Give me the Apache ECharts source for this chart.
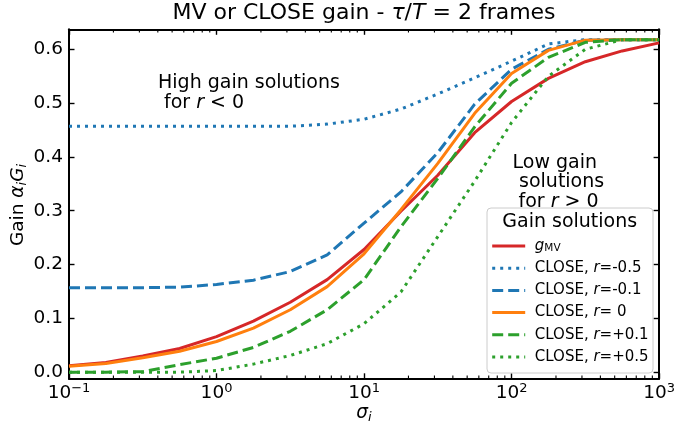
<!DOCTYPE html>
<html>
<head>
<meta charset="utf-8">
<script src="https://cdn.jsdelivr.net/npm/echarts@6/dist/echarts.min.js"></script>
<style>
  html, body { margin: 0; padding: 0; background: #ffffff; }
  #chart { width: 678px; height: 430px; }
</style>
</head>
<body>
<div id="chart"></div>
<script>
// Noise level sigma_i (log-spaced, 4 samples per decade)
const sigma = [0.1, 0.1778, 0.3162, 0.5623, 1, 1.778, 3.162, 5.623, 10, 17.78, 31.62, 56.23, 100, 177.8, 316.2, 562.3, 1000];

// Gain alpha_i G_i for each solution
const gainMV     = [0.012, 0.018, 0.030, 0.044, 0.066, 0.095, 0.130, 0.172, 0.228, 0.299, 0.366, 0.445, 0.503, 0.546, 0.577, 0.597, 0.612];
const closeNeg05 = [0.457, 0.457, 0.457, 0.457, 0.457, 0.457, 0.457, 0.461, 0.470, 0.489, 0.517, 0.547, 0.578, 0.610, 0.618, 0.618, 0.618];
const closeNeg01 = [0.157, 0.157, 0.157, 0.158, 0.163, 0.171, 0.187, 0.218, 0.277, 0.335, 0.408, 0.498, 0.563, 0.600, 0.617, 0.618, 0.618];
const closeZero  = [0.011, 0.016, 0.027, 0.039, 0.057, 0.082, 0.116, 0.159, 0.220, 0.302, 0.388, 0.481, 0.555, 0.598, 0.617, 0.618, 0.618];
const closePos01 = [0.000, 0.000, 0.001, 0.014, 0.026, 0.046, 0.076, 0.116, 0.172, 0.270, 0.360, 0.456, 0.537, 0.585, 0.613, 0.618, 0.618];
const closePos05 = [0.000, 0.000, 0.000, 0.000, 0.003, 0.015, 0.031, 0.053, 0.090, 0.149, 0.252, 0.355, 0.464, 0.550, 0.600, 0.618, 0.618];

// Axis ticks
const yTicks = [0, 0.1, 0.2, 0.3, 0.4, 0.5, 0.6];
const xMinorTicks = [];
[0.1, 1, 10, 100].forEach(function (d) {
  for (let k = 2; k <= 9; k++) xMinorTicks.push(+(d * k).toPrecision(3));
});

const FONT = 'DejaVu Sans';
const C_RED = '#d62728', C_BLUE = '#1f77b4', C_ORANGE = '#ff7f0e', C_GREEN = '#2ca02c';
const DASHED = [11, 5];
const DOTTED = [3, 5];

const Y_MIN = -0.0123, Y_MAX = 0.6372;
const X_MIN = 0.1, X_MAX = 1000;

const chart = echarts.init(document.getElementById('chart'), null, { renderer: 'canvas' });

function pairs(values) {
  return sigma.map(function (s, i) { return [s, values[i]]; });
}

function lineSeries(name, values, color, type) {
  return {
    name: name,
    type: 'line',
    data: pairs(values),
    symbol: 'none',
    showSymbol: false,
    smooth: false,
    silent: true,
    animation: false,
    lineStyle: { color: color, width: 3, type: type, cap: 'butt' },
    itemStyle: { color: color }
  };
}

const legendLabels = {
  'gMV': '{mi|g}{sub|MV}',
  'r=-0.5': 'CLOSE, {mi|r}=-0.5',
  'r=-0.1': 'CLOSE, {mi|r}=-0.1',
  'r=0': 'CLOSE, {mi|r}= 0',
  'r=+0.1': 'CLOSE, {mi|r}=+0.1',
  'r=+0.5': 'CLOSE, {mi|r}=+0.5'
};

function pow10Label(v) {
  const e = Math.round(Math.log10(v));
  return '{b|10}{sup|' + (e < 0 ? '\u2212' + (-e) : e) + '}';
}

const italic = function (size) {
  return { fontFamily: FONT, fontSize: size, fontStyle: 'italic', fill: '#000' };
};

const option = {
  backgroundColor: '#ffffff',
  animation: false,
  grid: { left: 69, right: 16.7, top: 29.3, bottom: 51.2, containLabel: false },
  xAxis: [
    {
      type: 'log', logBase: 10, min: X_MIN, max: X_MAX, position: 'bottom',
      axisLine: { show: true, onZero: false, lineStyle: { color: '#000', width: 2 } },
      axisTick: { show: true, inside: true, length: 5.5, lineStyle: { color: '#000', width: 1.4 } },
      axisLabel: {
        show: true, margin: 3,
        formatter: pow10Label,
        rich: {
          b: { fontFamily: FONT, fontSize: 18.5, color: '#000', lineHeight: 22 },
          sup: { fontFamily: FONT, fontSize: 13, color: '#000', verticalAlign: 'top', lineHeight: 9.4 }
        }
      },
      splitLine: { show: false }, minorTick: { show: false }
    },
    {
      type: 'log', logBase: 10, min: X_MIN, max: X_MAX, position: 'top',
      axisLine: { show: true, onZero: false, lineStyle: { color: '#000', width: 2 } },
      axisTick: { show: true, inside: true, length: 5.5, lineStyle: { color: '#000', width: 1.4 } },
      axisLabel: { show: false },
      splitLine: { show: false }
    }
  ],
  yAxis: [
    {
      type: 'value', min: Y_MIN, max: Y_MAX, position: 'left',
      axisLine: { show: true, onZero: false, lineStyle: { color: '#000', width: 2 } },
      axisTick: { show: true, inside: true, length: 5.5, customValues: yTicks, lineStyle: { color: '#000', width: 1.4 } },
      axisLabel: {
        show: true, margin: 6, customValues: yTicks,
        formatter: function (v) { return v.toFixed(1); },
        fontFamily: FONT, fontSize: 18.5, color: '#000'
      },
      splitLine: { show: false }
    },
    {
      type: 'value', min: Y_MIN, max: Y_MAX, position: 'right',
      axisLine: { show: true, onZero: false, lineStyle: { color: '#000', width: 2 } },
      axisTick: { show: true, inside: true, length: 5.5, customValues: yTicks, lineStyle: { color: '#000', width: 1.4 } },
      axisLabel: { show: false },
      splitLine: { show: false }
    }
  ],
  legend: {
    data: ['gMV', 'r=-0.5', 'r=-0.1', 'r=0', 'r=+0.1', 'r=+0.5'],
    orient: 'vertical',
    left: 490.7, top: 238.5,
    padding: 0,
    itemWidth: 33, itemHeight: 15, itemGap: 7.2,
    selectedMode: false,
    itemStyle: { color: 'rgba(0,0,0,0)', borderWidth: 0, opacity: 0 },
    lineStyle: { width: 3, type: 'inherit', color: 'inherit', opacity: 1 },
    formatter: function (name) { return legendLabels[name]; },
    textStyle: {
      fontFamily: FONT, fontSize: 15, color: '#000', lineHeight: 15, padding: [0, 0, 0, 4.6],
      rich: {
        mi: { fontFamily: FONT, fontSize: 15, fontStyle: 'italic', color: '#000', lineHeight: 15 },
        sub: { fontFamily: FONT, fontSize: 10.5, color: '#000', verticalAlign: 'bottom', lineHeight: 7 }
      }
    }
  },
  graphic: [
    // legend frame and title
    {
      type: 'rect', z: 1,
      shape: { x: 487, y: 208, width: 166, height: 165, r: 4 },
      style: { fill: 'rgba(255,255,255,0.8)', stroke: '#cccccc', lineWidth: 1 }
    },
    {
      type: 'text', z: 5, x: 569.7, y: 222.5,
      style: { text: 'Gain solutions', fontFamily: FONT, fontSize: 19, fill: '#000', align: 'center', verticalAlign: 'middle' }
    },
    // title
    {
      type: 'text', z: 5, x: 364, y: 13.5,
      style: {
        text: 'MV or CLOSE gain - {i|\u03c4}/{i|T} = 2 frames',
        fontFamily: FONT, fontSize: 22, fill: '#000', align: 'center', verticalAlign: 'middle',
        rich: { i: italic(22) }
      }
    },
    // y-axis label
    {
      type: 'text', z: 5, x: 18, y: 205, rotation: Math.PI / 2,
      style: {
        text: 'Gain {i|\u03b1}{s|i}{i|G}{s|i}',
        fontFamily: FONT, fontSize: 18.5, fill: '#000', align: 'center', verticalAlign: 'middle',
        rich: {
          i: Object.assign(italic(18.5), { lineHeight: 22 }),
          s: Object.assign(italic(13), { verticalAlign: 'bottom', lineHeight: 10.6 })
        }
      }
    },
    // x-axis label
    {
      type: 'text', z: 5, x: 364, y: 413,
      style: {
        text: '{i|\u03c3}{s|i}',
        fontFamily: FONT, fontSize: 18.5, fill: '#000', align: 'center', verticalAlign: 'middle',
        rich: {
          i: Object.assign(italic(18.5), { lineHeight: 22 }),
          s: Object.assign(italic(13), { verticalAlign: 'bottom', lineHeight: 10.6 })
        }
      }
    },
    // annotations
    {
      type: 'text', z: 5, x: 158, y: 83,
      style: { text: 'High gain solutions', fontFamily: FONT, fontSize: 19, fill: '#000', align: 'left', verticalAlign: 'middle' }
    },
    {
      type: 'text', z: 5, x: 158, y: 103.5,
      style: {
        text: ' for {i|r} < 0', fontFamily: FONT, fontSize: 19, fill: '#000', align: 'left', verticalAlign: 'middle',
        rich: { i: italic(19) }
      }
    },
    {
      type: 'text', z: 5, x: 512.5, y: 163,
      style: { text: 'Low gain', fontFamily: FONT, fontSize: 19, fill: '#000', align: 'left', verticalAlign: 'middle' }
    },
    {
      type: 'text', z: 5, x: 513, y: 182.5,
      style: { text: ' solutions', fontFamily: FONT, fontSize: 19, fill: '#000', align: 'left', verticalAlign: 'middle' }
    },
    {
      type: 'text', z: 5, x: 518.5, y: 202,
      style: {
        text: 'for {i|r} > 0', fontFamily: FONT, fontSize: 19, fill: '#000', align: 'left', verticalAlign: 'middle',
        rich: { i: italic(19) }
      }
    }
  ],
  series: [
    // minor ticks of the log axis, on bottom and top spines
    {
      type: 'custom',
      silent: true,
      animation: false,
      clip: false,
      z: 3,
      xAxisIndex: 0, yAxisIndex: 0,
      data: xMinorTicks.map(function (v) { return [v, 0]; }),
      renderItem: function (params, api) {
        const x = api.coord([api.value(0), 0])[0];
        const cs = params.coordSys;
        const st = { stroke: '#000', lineWidth: 1.1 };
        return {
          type: 'group',
          children: [
            { type: 'line', shape: { x1: x, y1: cs.y + cs.height, x2: x, y2: cs.y + cs.height - 3.2 }, style: st },
            { type: 'line', shape: { x1: x, y1: cs.y, x2: x, y2: cs.y + 3.2 }, style: st }
          ]
        };
      }
    },
    lineSeries('gMV', gainMV, C_RED, 'solid'),
    lineSeries('r=-0.5', closeNeg05, C_BLUE, DOTTED),
    lineSeries('r=-0.1', closeNeg01, C_BLUE, DASHED),
    lineSeries('r=0', closeZero, C_ORANGE, 'solid'),
    lineSeries('r=+0.1', closePos01, C_GREEN, DASHED),
    lineSeries('r=+0.5', closePos05, C_GREEN, DOTTED)
  ]
};

chart.setOption(option);
</script>
</body>
</html>
